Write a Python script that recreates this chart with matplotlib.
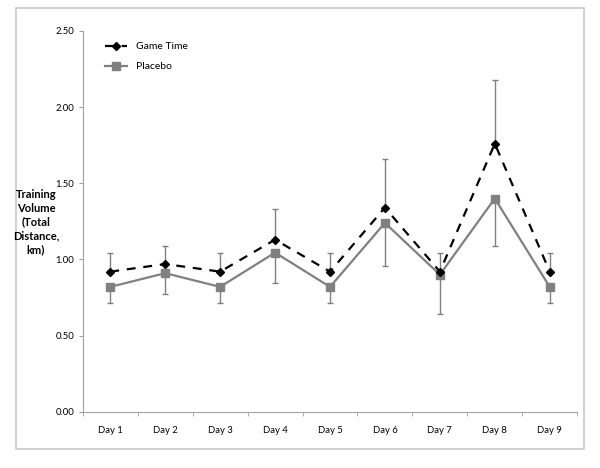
import numpy as np
import matplotlib.pyplot as plt
from matplotlib.patches import Rectangle

plt.rcParams["font.family"] = ["Lato", "DejaVu Sans"]

days = ["Day 1", "Day 2", "Day 3", "Day 4", "Day 5", "Day 6", "Day 7", "Day 8", "Day 9"]
game_time = [0.92, 0.97, 0.92, 1.13, 0.92, 1.34, 0.92, 1.76, 0.92]
game_time_err = [0.12, 0.12, 0.12, 0.20, 0.12, 0.32, 0.12, 0.42, 0.12]
placebo = [0.82, 0.91, 0.82, 1.045, 0.82, 1.24, 0.90, 1.40, 0.82]
placebo_err = [0.105, 0.135, 0.105, 0.20, 0.105, 0.28, 0.26, 0.31, 0.105]
yticks = [0.0, 0.5, 1.0, 1.5, 2.0, 2.5]

fig = plt.figure(figsize=(6, 4.68), dpi=100)
ax = fig.add_axes([0.138, 0.12, 0.824, 0.814])

# outer chart frame
fig.patches.append(Rectangle((16 / 600, 1 - 449 / 468), 568 / 600, 441 / 468,
                             transform=fig.transFigure, fill=False,
                             ec="#c8c8c8", lw=1.2))

x = np.arange(len(days))
gcol = "#808080"

ax.errorbar(x, placebo, yerr=[placebo_err, np.zeros(len(x))], fmt="none",
            ecolor=gcol, elinewidth=1, capsize=2.5, capthick=1, zorder=1)
ax.errorbar(x, game_time, yerr=[np.zeros(len(x)), game_time_err], fmt="none",
            ecolor=gcol, elinewidth=1, capsize=2.5, capthick=1, zorder=1)
ax.plot(x, game_time, color="black", ls=(0, (4, 3.5)), lw=1.6, marker="D",
        ms=4.5, label="Game Time", zorder=3)
ax.plot(x, placebo, color=gcol, lw=1.6, marker="s", ms=6, label="Placebo", zorder=2)

ax.set_xlim(-0.5, len(days) - 0.5)
ax.set_ylim(0, 2.5)
ax.set_yticks(yticks)
ax.set_yticklabels([f"{v:.2f}" for v in yticks], fontsize=6.8)
ax.set_xticks(x)
ax.set_xticklabels(days, fontsize=6.8)
ax.set_xticks(np.arange(-0.5, len(days)), minor=True)
ax.tick_params(axis="x", which="major", length=0, pad=10)
ax.tick_params(axis="x", which="minor", length=3, color="#a0a0a0")
ax.tick_params(axis="y", length=3, color="#a0a0a0", pad=3)

for s in ["top", "right"]:
    ax.spines[s].set_visible(False)
for s in ["left", "bottom"]:
    ax.spines[s].set_color("#a0a0a0")

fig.text(36 / 600, 1 - 222 / 468, "Training\nVolume\n(Total\nDistance,\nkm)",
         ha="center", va="center", fontsize=8, fontweight="bold", linespacing=1.3)

ax.legend(loc="upper left", bbox_to_anchor=(0.025, 0.995), frameon=False,
          fontsize=7.5, handlelength=2.2, labelspacing=1.0, handletextpad=0.8)

fig.savefig("out.png", dpi=100)
